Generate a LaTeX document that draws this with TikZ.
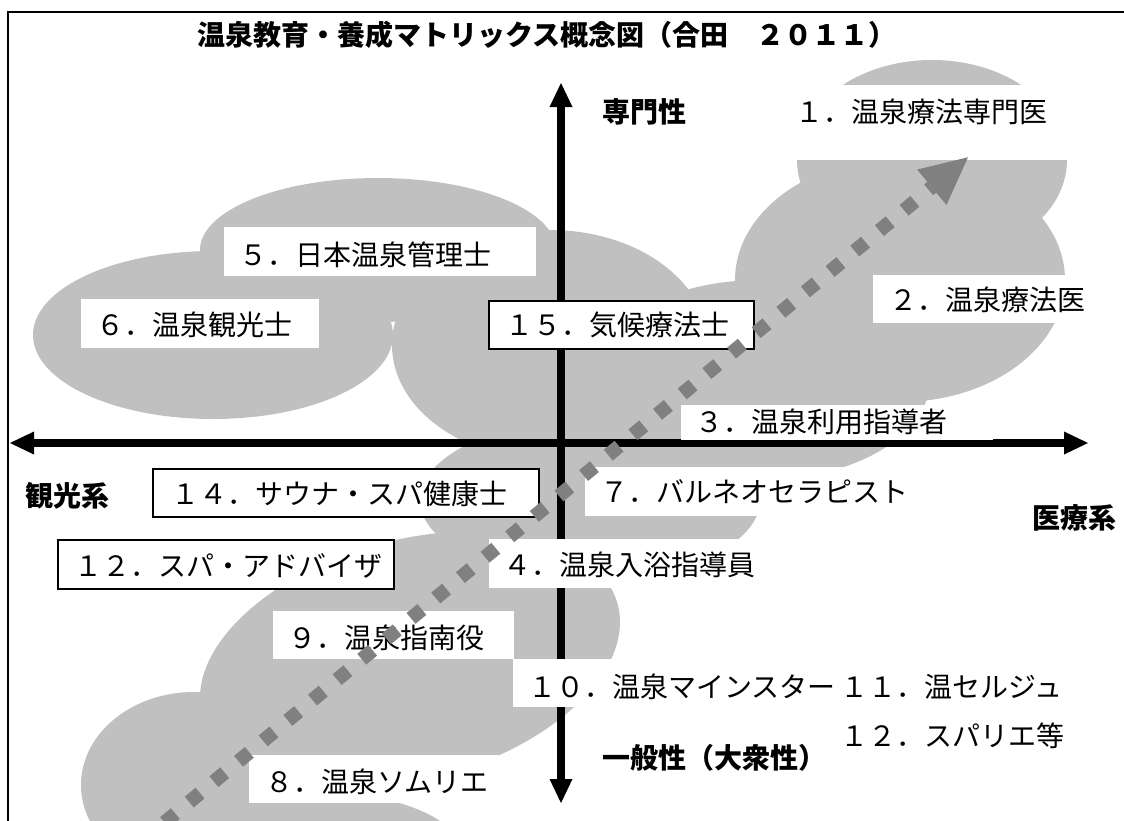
\documentclass[tikz,border=0pt]{standalone}
\usepackage{fontspec}
\newfontfamily\jp{Noto Sans CJK JP}
\usetikzlibrary{arrows.meta}
\definecolor{blobgray}{HTML}{C0C0C0}
\definecolor{dotgray}{HTML}{808080}
\begin{document}
\begin{tikzpicture}[x=1pt,y=-1pt,
  blob/.style={fill=blobgray},
  axisline/.style={line width=7.5pt, {Triangle[length=24pt,width=23pt,line width=0pt]}-{Triangle[length=24pt,width=23pt,line width=0pt]}},
  framel/.style={line width=2.5pt},
  jtext/.style={font=\jp\fontsize{28pt}{32pt}\selectfont},
  boxlab/.style={jtext, anchor=north west, align=left, inner ysep=0pt, inner xsep=15pt},
  wbox/.style={boxlab, fill=white},
  framedbox/.style={boxlab, fill=white, draw=black, line width=2pt},
  freelab/.style={jtext, anchor=base west, inner sep=0pt},
  boldlab/.style={freelab, font=\jp\bfseries\fontsize{28pt}{32pt}\selectfont},
  trend/.style={draw=dotgray, line width=14pt, dash pattern=on 14pt off 18pt, -{Triangle[length=47pt,width=46pt,line width=0pt]}},
]
\useasboundingbox (0,0) rectangle (1124,820);
\clip (0,0) rectangle (1124,820);

% grey clouds
\fill[blob] (932,160) ellipse [x radius=135, y radius=100];
\fill[blob] (900,280) ellipse [x radius=165, y radius=122];
\fill[blob] (760,380) ellipse [x radius=170, y radius=100];
\fill[blob] (378,250) ellipse [x radius=178, y radius=72];
\fill[blob] (213,335) ellipse [x radius=180, y radius=84];
\fill[blob] (550,345) ellipse [x radius=158, y radius=115];
\fill[blob] (590,500) ellipse [x radius=170, y radius=80];
\fill[blob, rotate around={15:(410,660)}] (410,660) ellipse [x radius=215, y radius=120];
\fill[blob] (194,785) ellipse [x radius=113, y radius=93];
\fill[blob] (300,850) ellipse [x radius=160, y radius=60];

% frame
\coordinate (f1) at (8,830);
\coordinate (f2) at (8,12);
\coordinate (f3) at (1130,12);
\draw[framel] (f1) -- (f2) -- (f3);

% axes
\coordinate (vt) at (561,83);
\coordinate (vb) at (561,803);
\coordinate (hl) at (10,443);
\coordinate (hr) at (1088,443);
\draw[axisline] (vb) -- (vt);
\draw[axisline] (hl) -- (hr);

% title and axis labels
\node[boldlab, anchor=base] (title) at (547,45.6) {温泉教育・養成マトリックス概念図（合田　２０１１）};
\node[boldlab] (spec) at (602,122.6) {専門性};
\node[boldlab] (tour) at (25,506.6) {観光系};
\node[boldlab] (med) at (1032,528.6) {医療系};
\node[boldlab] (gen) at (602,768.6) {一般性（大衆性）};

% label boxes
\fill[white] (779,85) rectangle (1075,160);
\node[boxlab, text width=264pt, text height=37.6pt, text depth=37.4pt, inner xsep=16pt] (b1) at (779,85) {１．温泉療法専門医};
\node[wbox, text width=282pt, text height=38.6pt, text depth=10.4pt] (b5) at (224,227) {５．日本温泉管理士};
\node[wbox, text width=208pt, text height=36.6pt, text depth=12.4pt] (b6) at (81,299) {６．温泉観光士};
\node[framedbox, text width=233pt, text height=34.6pt, text depth=13.4pt, inner xsep=16pt] (b15) at (488,300) {１５．気候療法士};
\node[wbox, text width=195pt, text height=35.6pt, text depth=12.4pt, inner xsep=16pt] (b2) at (873,275) {２．温泉療法医};
\node[wbox, text width=284pt, text height=27.6pt, text depth=7.4pt, inner xsep=14pt] (b3) at (681,405) {３．温泉利用指導者};
\node[framedbox, text width=350pt, text height=35.6pt, text depth=12.4pt, inner xsep=18pt] (b14) at (152,468) {１４．サウナ・スパ健康士};
\node[wbox, text width=315pt, text height=35.6pt, text depth=13.4pt] (b7) at (585,467) {７．バルネオセラピスト};
\node[framedbox, text width=304pt, text height=36.6pt, text depth=12.4pt, inner xsep=16pt] (b12a) at (57,539) {１２．スパ・アドバイザ};
\node[wbox, text width=262pt, text height=36.6pt, text depth=12.4pt, inner xsep=14pt] (b4) at (489,539) {４．温泉入浴指導員};
\node[wbox, text width=211pt, text height=37.6pt, text depth=10.4pt] (b9) at (273,611) {９．温泉指南役};
\node[wbox, text width=300pt, text height=38.3pt, text depth=9.7pt] (b10) at (513,659) {１０．温泉マインスター};
\node[wbox, text width=217pt, text height=37.6pt, text depth=10.4pt, inner xsep=16pt] (b8) at (249,755) {８．温泉ソムリエ};
\node[freelab] (l11) at (840,697.6) {１１．温セルジュ};
\node[freelab] (l12) at (840,746.6) {１２．スパリエ等};

% trend arrow
\coordinate (ds) at (139.95,842.88);
\coordinate (de) at (968,157.3);
\draw[trend] (ds) -- (de);
\end{tikzpicture}
\end{document}
